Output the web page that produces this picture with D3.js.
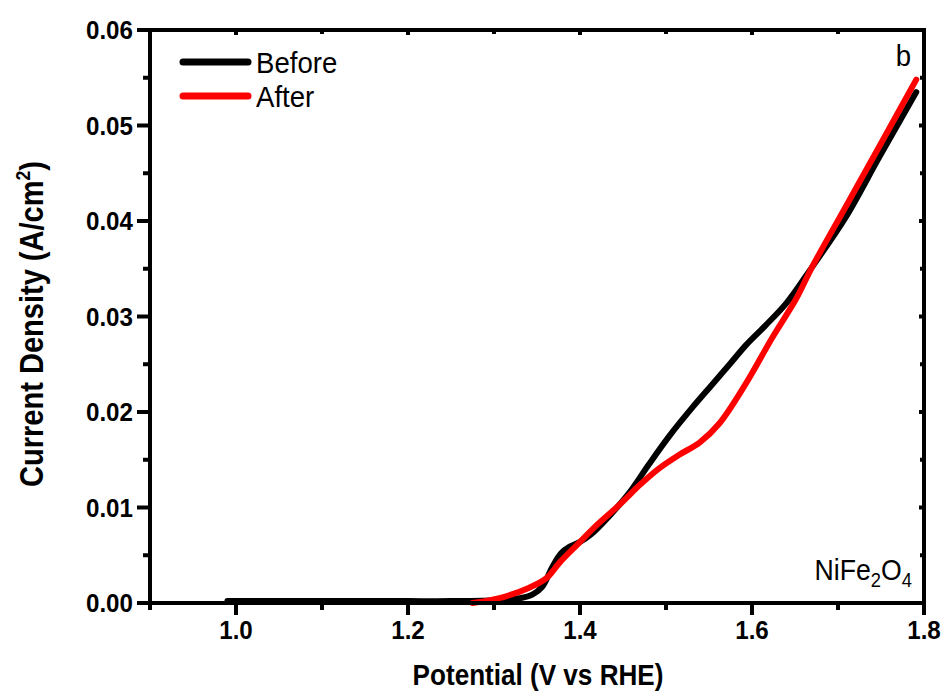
<!DOCTYPE html>
<html><head><meta charset="utf-8">
<script src="https://cdn.jsdelivr.net/npm/d3@7"></script>
<style>body{margin:0;background:#fff}svg{display:block}text{font-family:"Liberation Sans",Arial,sans-serif}</style>
</head><body><svg id="c" width="947" height="696"></svg>
<script>
const beforeV = [0.99, 1.05, 1.10, 1.15, 1.20, 1.25, 1.30, 1.33, 1.345, 1.356, 1.368, 1.378, 1.388, 1.40, 1.413, 1.435, 1.457, 1.48, 1.504, 1.53, 1.554, 1.575, 1.593, 1.615, 1.640, 1.670, 1.709, 1.748, 1.791];
const beforeC = [0.0002, 0.0002, 0.0002, 0.0002, 0.0002, 0.0002, 0.0003, 0.0005, 0.0009, 0.0017, 0.0038, 0.0052, 0.0059, 0.0064, 0.0072, 0.0092, 0.0115, 0.0145, 0.0175, 0.0204, 0.0229, 0.0251, 0.0270, 0.0290, 0.0314, 0.0352, 0.0404, 0.0467, 0.0535];
const afterV = [1.275, 1.31, 1.341, 1.361, 1.376, 1.399, 1.42, 1.446, 1.47, 1.492, 1.515, 1.539, 1.562, 1.593, 1.623, 1.651, 1.670, 1.709, 1.748, 1.791];
const afterC = [0.0, 0.0006, 0.0016, 0.0026, 0.0042, 0.0063, 0.0082, 0.0103, 0.0124, 0.0141, 0.0155, 0.0168, 0.0188, 0.0230, 0.0277, 0.0318, 0.0352, 0.0415, 0.0478, 0.0548];
const xTicks = [1.0, 1.2, 1.4, 1.6, 1.8];
const xMinor = [0.9, 1.1, 1.3, 1.5, 1.7];
const yTicks = [0.00, 0.01, 0.02, 0.03, 0.04, 0.05, 0.06];
const yMinor = [0.005, 0.015, 0.025, 0.035, 0.045, 0.055];
const seriesNames = ["Before", "After"];
const seriesColors = ["#000000", "#ff0000"];

const svg = d3.select("#c");
const L = 150, R = 924, T = 30, B = 603;
const x = d3.scaleLinear().domain([0.9, 1.8]).range([L, R]);
const y = d3.scaleLinear().domain([0, 0.06]).range([B, T]);

function txt(px, py, anchor, size, weight, rot, sx, build) {
  const g = svg.append("g").attr("transform", `translate(${px},${py})` + (rot ? ` rotate(${rot})` : "") + ` scale(${sx},1)`);
  const t = g.append("text").attr("text-anchor", anchor).attr("font-size", size).attr("font-weight", weight).attr("fill", "#000");
  build(t);
  return t;
}

// lines
const line = d3.line().x(d => x(d[0])).y(d => y(d[1])).curve(d3.curveCatmullRom.alpha(0.5));
const data = [d3.zip(beforeV, beforeC), d3.zip(afterV, afterC)];
data.forEach((d, i) => {
  svg.append("path").datum(d).attr("d", line).attr("fill", "none")
    .attr("stroke", seriesColors[i]).attr("stroke-width", 6)
    .attr("stroke-linecap", "round").attr("stroke-linejoin", "round");
});

// axes
const ax = svg.append("g").attr("stroke", "#000").attr("stroke-width", 4).attr("stroke-linecap", "square");
ax.append("rect").attr("x", L).attr("y", T).attr("width", R - L).attr("height", B - T).attr("fill", "none");
xTicks.forEach(v => {
  ax.append("line").attr("x1", x(v)).attr("x2", x(v)).attr("y1", B).attr("y2", B + 10);
  ax.append("line").attr("x1", x(v)).attr("x2", x(v)).attr("y1", T).attr("y2", T + 3);
});
xMinor.forEach(v => {
  ax.append("line").attr("x1", x(v)).attr("x2", x(v)).attr("y1", B).attr("y2", B + 5);
  ax.append("line").attr("x1", x(v)).attr("x2", x(v)).attr("y1", T).attr("y2", T + 2);
});
yTicks.forEach(v => {
  ax.append("line").attr("x1", L - 11).attr("x2", L).attr("y1", y(v)).attr("y2", y(v));
  ax.append("line").attr("x1", R).attr("x2", R - 3).attr("y1", y(v)).attr("y2", y(v));
});
yMinor.forEach(v => {
  ax.append("line").attr("x1", L - 5).attr("x2", L).attr("y1", y(v)).attr("y2", y(v));
  ax.append("line").attr("x1", R).attr("x2", R - 2).attr("y1", y(v)).attr("y2", y(v));
});

xTicks.forEach(v => txt(x(v), 639, "middle", 26, "bold", 0, 0.93, t => t.text(d3.format(".1f")(v))));
yTicks.forEach(v => txt(133, y(v) + 9, "end", 26, "bold", 0, 0.93, t => t.text(d3.format(".2f")(v))));

txt(538, 685, "middle", 29, "bold", 0, 0.9, t => t.text("Potential (V vs RHE)"));
txt(43, 324, "middle", 33, "bold", -90, 0.88, t => {
  t.append("tspan").text("Current Density (A/cm");
  t.append("tspan").attr("font-size", 20).attr("dy", -13).text("2");
  t.append("tspan").attr("dy", 13).text(")");
});

// legend
seriesNames.forEach((n, i) => {
  const ly = 62 + i * 34;
  svg.append("line").attr("x1", 183).attr("x2", 248).attr("y1", ly).attr("y2", ly)
    .attr("stroke", seriesColors[i]).attr("stroke-width", 7).attr("stroke-linecap", "round");
  txt(256, ly + 11, "start", 30, "normal", 0, 0.92, t => t.text(n));
});

txt(911, 66, "end", 30, "normal", 0, 0.92, t => t.text("b"));
txt(912, 580, "end", 29, "normal", 0, 0.92, t => {
  t.append("tspan").text("NiFe");
  t.append("tspan").attr("font-size", 20).attr("dy", 7).text("2");
  t.append("tspan").attr("dy", -7).text("O");
  t.append("tspan").attr("font-size", 20).attr("dy", 7).text("4");
});
</script></body></html>
